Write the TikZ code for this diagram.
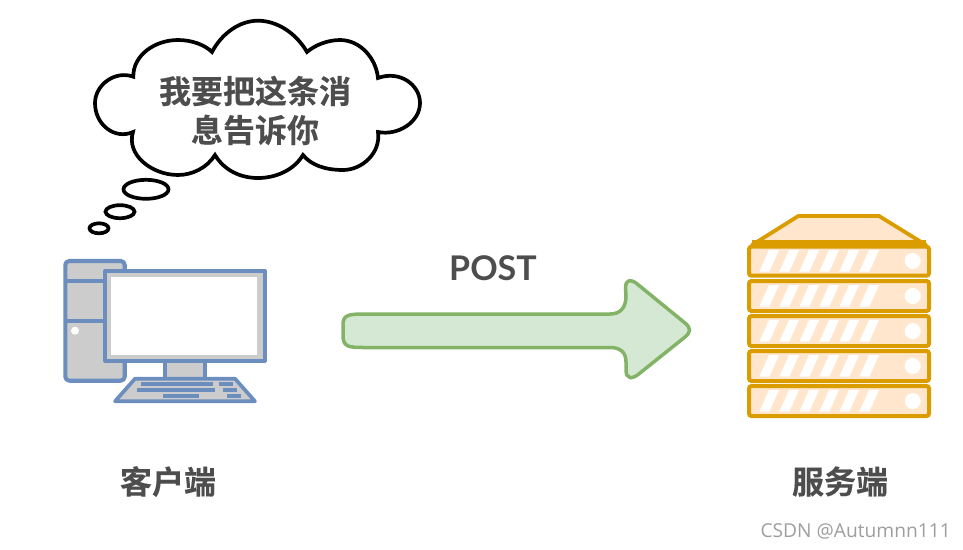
\documentclass[tikz,border=0pt]{standalone}
\usepackage{fontspec}
\setmainfont{Open Sans}
\newfontfamily\cjk{Noto Sans CJK SC}[BoldFont={Noto Sans CJK SC Bold},BoldFeatures={FakeBold=0.25}]
\newfontfamily\postfont{Lato}
\definecolor{txt}{HTML}{4D4D4D}
\definecolor{bluel}{HTML}{6C8EBF}
\definecolor{grayf}{HTML}{CCCCCC}
\definecolor{orl}{HTML}{DB9C00}
\definecolor{orf}{HTML}{FFE6CC}
\definecolor{grl}{HTML}{82B366}
\definecolor{grf}{HTML}{D5E8D4}
\tikzset{
  cjklabel/.style={text=txt,font=\cjk\bfseries\fontsize{32}{39}\selectfont,align=center,inner sep=0pt},
  cloudline/.style={draw=black,line width=3.7pt,fill=white},
  pcpart/.style={draw=bluel,line width=4.1pt,fill=grayf,line join=round},
  pckey/.style={fill=bluel},
  srvpart/.style={draw=orl,line width=4pt,fill=orf,rounded corners=2.5pt},
  srvmark/.style={fill=white},
}
\begin{document}
\begin{tikzpicture}[x=1pt,y=-1pt]
\useasboundingbox (0,0) rectangle (963,549);
% cloud
\draw[cloudline] (133.3,76.7) .. controls (133,55) and (155,40) .. (178,40)
  .. controls (192,40) and (205,45) .. (212,52)
  .. controls (222,33) and (240,20.7) .. (258,20.7)
  .. controls (277,20.7) and (296,33) .. (307,52)
  .. controls (315,45) and (328,40) .. (340,40)
  .. controls (360,40) and (376,58) .. (378,78)
  .. controls (400,70) and (420,85) .. (420,103)
  .. controls (420,122) and (398,136) .. (378,132)
  .. controls (381,153) and (362,170) .. (343,170)
  .. controls (325,170) and (311,165) .. (303,155)
  .. controls (294,170) and (276,178) .. (258,178)
  .. controls (240,178) and (224,170) .. (215,155)
  .. controls (207,168) and (192,175) .. (178,175)
  .. controls (152,175) and (126,155) .. (133,132)
  .. controls (115,140) and (95,125) .. (95,103)
  .. controls (95,85) and (115,70) .. (133.3,76.7) -- cycle;
\draw[cloudline] (146,189.3) ellipse [x radius=22.5, y radius=9.5];
\draw[cloudline] (120,211.7) ellipse [x radius=14.5, y radius=6.5];
\draw[cloudline] (99,228.3) ellipse [x radius=9.5, y radius=5];
\node[cjklabel] (msg) at (255,110.5) {我要把这条消\\息告诉你};
% computer
\draw[pcpart,rounded corners=4pt] (65.3,261) rectangle (124.7,380.7);
\draw[pcpart,fill=none] (65.3,280.7) -- (124.7,280.7) (65.3,320.7) -- (124.7,320.7);
\fill[white] (75,330.7) circle (4);
\draw[pcpart] (165,360) rectangle (205,379);
\draw[pcpart] (105.3,271) rectangle (264.7,360.7);
\fill[white] (110.7,276.7) rectangle (257.3,355);
\draw[pcpart,line width=3.7pt] (135,378.7) -- (235,378.7) -- (255,401.3) -- (115,401.3) -- cycle;
\fill[pckey] (141,382) rectangle (213,386);
\fill[pckey] (219,382) rectangle (233,386);
\fill[pckey] (137,388) rectangle (215,392);
\fill[pckey] (223,388) rectangle (237,392);
\fill[pckey] (163,394) rectangle (199,398);
\fill[pckey] (227,394) rectangle (241,398);
% arrow
\draw[draw=grl,fill=grf,line width=3.5pt,line join=round]
  (365,314) -- (610,314) .. controls (620,314) and (626,308) .. (626,296)
  -- (625.5,287) .. controls (626,280) and (630,279) .. (636,283)
  -- (685,323) .. controls (691,328) and (691,332) .. (685,337)
  -- (640,373) .. controls (632,380) and (626,379) .. (626,370)
  -- (626,362) .. controls (626,352) and (620,347.5) .. (610,347.5)
  -- (365,347.5) .. controls (348,347.5) and (343,347) .. (343,335)
  -- (343,325) .. controls (343,315) and (348,314) .. (365,314) -- cycle;
\node[text=txt,font=\postfont\bfseries\fontsize{34}{38}\selectfont,inner sep=0pt] (post) at (493,268.5) {POST};
% server
\draw[draw=orl,fill=orf,line width=3.8pt,line join=round] (798.3,216) -- (879,216) -- (926,245) -- (752,245) -- cycle;
\fill[orl] (752,240) rectangle (926,247);
\foreach \r in {0,1,2,3,4}{
  \begin{scope}[yshift=-35*\r pt]
    \ifnum\r=0
      \draw[srvpart] (749,246.7) rectangle (929,275.7);
    \else
      \draw[srvpart] (749,246) rectangle (929,276);
    \fi
    \foreach \k in {0,...,5}{
      \fill[srvmark] ({759.3+20*\k},271.7) -- ({769.3+20*\k},271.7) -- ({779+20*\k},250) -- ({769+20*\k},250) -- cycle;
    }
    \fill[srvmark] (912.7,261) circle (8);
  \end{scope}
}
\node[cjklabel] (client) at (168,481.5) {客户端};
\node[cjklabel] (server) at (840,481.5) {服务端};
\node[anchor=east,text=black!38,font=\fontsize{19.2}{22}\selectfont,inner sep=0pt] (mark) at (951,531) {CSDN @Autumnn111};
\end{tikzpicture}
\end{document}
